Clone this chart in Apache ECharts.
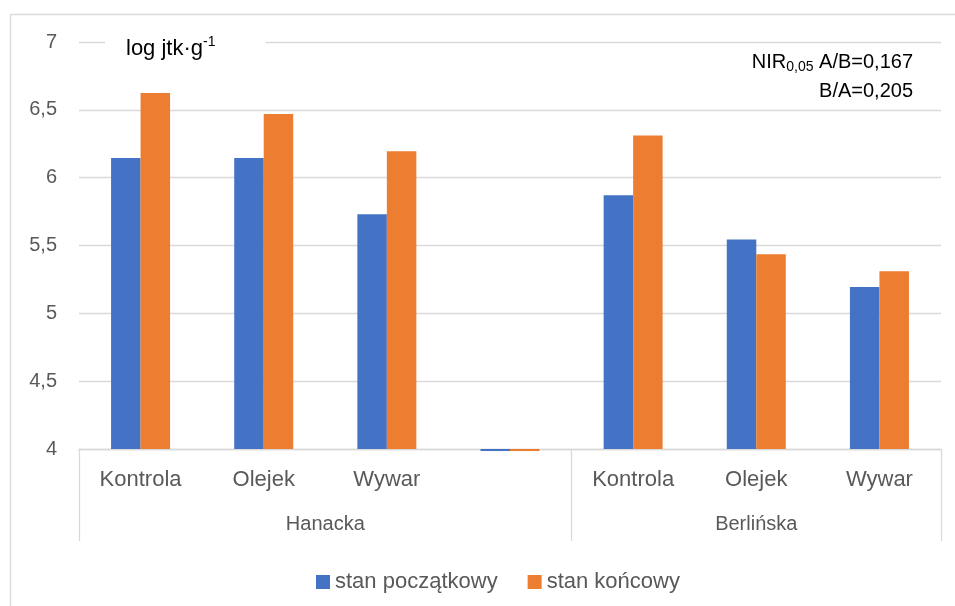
<!DOCTYPE html>
<html><head><meta charset="utf-8">
<script src="https://cdn.jsdelivr.net/npm/echarts@6/dist/echarts.min.js"></script>
<style>html,body{margin:0;padding:0;background:#fff}#c{width:955px;height:606px}</style>
</head><body><div id="c"></div>
<script>
const categories = ['Kontrola', 'Olejek', 'Wywar', '', 'Kontrola', 'Olejek', 'Wywar'];
const groups = ['Hanacka', 'Berlińska'];
const groupSizes = [4, 3];
const seriesNames = ['stan początkowy', 'stan końcowy'];
const initialValues = [6.145, 6.145, 5.73, 3.985, 5.87, 5.545, 5.195];
const finalValues = [6.625, 6.47, 6.195, 3.985, 6.31, 5.435, 5.31];
const yTicks = [4, 4.5, 5, 5.5, 6, 6.5, 7];

const font = '"Liberation Sans", Arial, sans-serif';
const grey = '#595959';
const lineCol = '#d9d9d9';

// group boundaries and centres in category units
const bounds = [0];
groupSizes.forEach(s => bounds.push(bounds[bounds.length - 1] + s));
const centres = groupSizes.map((s, i) => bounds[i] + s / 2);

const chart = echarts.init(document.getElementById('c'));
chart.setOption({
  animation: false,
  textStyle: { fontFamily: font },
  graphic: [{
    type: 'rect', left: 8, top: 12, silent: true,
    shape: { width: 1000, height: 700 },
    style: { fill: 'none', stroke: lineCol, lineWidth: 1.3 }
  }],
  title: [{
    left: 105, top: 33,
    text: '{a|log jtk·g}{s|-1}',
    backgroundColor: '#fff',
    padding: [2, 50, 2, 21],
    textStyle: {
      fontWeight: 'normal',
      rich: {
        a: { fontSize: 22, color: '#000', fontFamily: font, fontWeight: 'normal', verticalAlign: 'bottom' },
        s: { fontSize: 14, color: '#000', fontFamily: font, fontWeight: 'normal', padding: [0, 0, 11, 0], verticalAlign: 'bottom' }
      }
    }
  }, {
    right: 37, top: 43,
    text: '{a|NIR}{b|0,05}{a| A/B=0,167}\n{a|B/A=0,205}',
    textStyle: {
      fontWeight: 'normal',
      align: 'right',
      rich: {
        a: { fontSize: 20, color: '#000', fontFamily: font, fontWeight: 'normal', lineHeight: 29, align: 'right' },
        b: { fontSize: 14, color: '#000', fontFamily: font, fontWeight: 'normal', lineHeight: 29, padding: [9, 0, 0, 0], align: 'right' }
      }
    }
  }],
  legend: {
    left: 311, top: 566,
    itemWidth: 14, itemHeight: 14, itemGap: 30,
    icon: 'rect',
    textStyle: { fontSize: 22, color: grey, fontFamily: font },
    data: seriesNames
  },
  grid: { left: 79, right: 14, top: 42, bottom: 157, containLabel: false },
  xAxis: [{
    type: 'category', data: categories, position: 'bottom',
    axisLine: { lineStyle: { color: lineCol, width: 1.3 } },
    axisTick: { show: false },
    axisLabel: { fontSize: 22, color: grey, margin: 20, fontFamily: font, interval: 0 }
  }, {
    type: 'value', min: 0, max: categories.length, position: 'bottom',
    axisLine: { show: false }, splitLine: { show: false },
    axisTick: { show: true, length: 92, inside: false, customValues: bounds, lineStyle: { color: lineCol, width: 1.3 } },
    axisLabel: {
      fontSize: 20, color: grey, margin: 65, fontFamily: font, customValues: centres,
      formatter: v => { const i = centres.indexOf(v); return i >= 0 ? groups[i] : ''; }
    }
  }],
  yAxis: {
    type: 'value', min: yTicks[0], max: yTicks[yTicks.length - 1], interval: 0.5, startValue: yTicks[0],
    axisLine: { show: false }, axisTick: { show: false },
    splitLine: { lineStyle: { color: lineCol, width: 1.3 } },
    axisLabel: { fontSize: 20, color: grey, margin: 22, fontFamily: font, formatter: v => String(v).replace('.', ',') }
  },
  series: [{
    name: seriesNames[0], type: 'bar', data: initialValues, barWidth: 29.5, barGap: '0%',
    clip: false, itemStyle: { color: '#4472C4' }
  }, {
    name: seriesNames[1], type: 'bar', data: finalValues, barWidth: 29.5, barGap: '0%',
    clip: false, itemStyle: { color: '#ED7D31' }
  }]
});
</script></body></html>
